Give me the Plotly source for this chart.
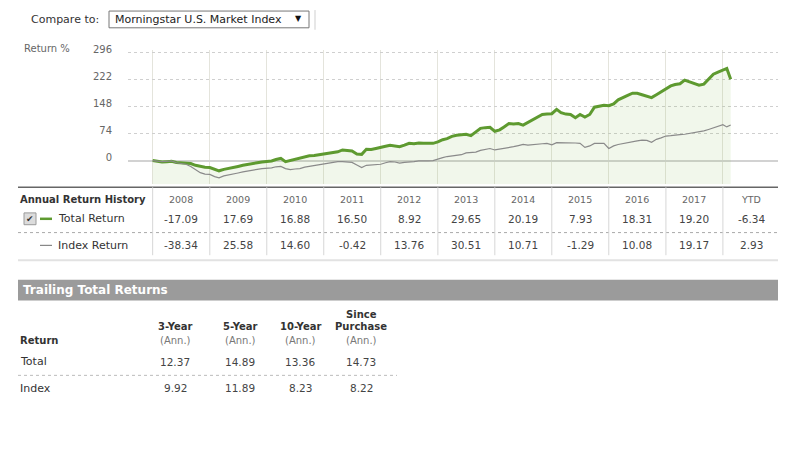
import pandas as pd
import plotly.graph_objects as go

# the page puts the figure 8px in from the top-left corner, so the figure is
# drawn 8px smaller and all layout positions below are in screen pixels
OX, OY = 8, 8
W, H = 798 - OX, 461 - OY

# cumulative return (%), first of each month Jan 2008 .. Jan 2018,
# then two late points for the 2018 peak and the last day shown
dates = list(pd.date_range("2008-01-01", "2018-01-01", freq="MS").strftime("%Y-%m-%d"))
dates += ["2018-01-26", "2018-02-20"]

total_return = [
    0, -2, -4, -3, -2, -5, -6, -7, -8, -13, -16, -18,       # 2008
    -19, -24, -28, -24, -22, -20, -16, -13, -10, -9, -6, -4,  # 2009
    -3, -1, 3, 6, -3, 0, 5, 8, 11, 13, 14, 16,              # 2010
    17, 19, 20, 24, 29, 27, 26, 18, 17, 31, 30, 33,         # 2011
    35, 39, 42, 41, 38, 42, 47, 46, 48, 47, 46, 47,         # 2012
    51, 57, 60, 66, 69, 70, 72, 68, 79, 88, 90, 91,         # 2013
    80, 84, 92, 101, 100, 101, 97, 104, 110, 118, 126, 127,  # 2014
    128, 140, 131, 127, 126, 117, 126, 119, 126, 146, 148, 151,  # 2015
    150, 155, 166, 171, 178, 184, 184, 180, 176, 172, 180, 188,  # 2016
    195, 204, 208, 210, 220, 215, 210, 206, 209, 222, 236, 242,  # 2017
    248, 252, 222,                                          # 2018
]

index_return = [
    0, -2, -3, -2, -1, -6, -8, -10, -16, -25, -33, -37,     # 2008
    -38, -44, -47, -42, -40, -38, -34, -31, -28, -27, -24, -22,  # 2009
    -22, -20, -17, -16, -22, -25, -23, -22, -18, -16, -13, -11,  # 2010
    -9, -6, -5, -3, -3, -4, -5, -12, -19, -13, -12, -11,    # 2011
    -10, -6, -3, -4, -7, -5, -5, -3, -1, -2, -1, 0,         # 2012
    5, 8, 11, 13, 15, 16, 21, 21, 23, 28, 31, 33,           # 2013
    29, 31, 33, 36, 38, 41, 44, 42, 44, 44, 46, 47,         # 2014
    43, 49, 49, 50, 50, 48, 47, 36, 40, 47, 47, 47,         # 2015
    33, 40, 44, 47, 50, 52, 54, 56, 55, 50, 58, 62,         # 2016
    67, 68, 70, 71, 72, 74, 76, 79, 81, 85, 90, 94,         # 2017
    98, 92, 97,                                             # 2018
]

y_ticks = [0, 74, 148, 222, 296]
y_range = [-65, 301]
years = list(range(2008, 2019))
col_labels = [str(y) for y in range(2008, 2018)] + ["YTD"]
annual_total = ["-17.09", "17.69", "16.88", "16.50", "8.92", "29.65", "20.19", "7.93", "18.31", "19.20", "-6.34"]
annual_index = ["-38.34", "25.58", "14.60", "-0.42", "13.76", "30.51", "10.71", "-1.29", "10.08", "19.17", "2.93"]

trail_heads = ["3-Year", "5-Year", "10-Year", "Purchase"]
trail_total = ["12.37", "14.89", "13.36", "14.73"]
trail_index = ["9.92", "11.89", "8.23", "8.22"]

GREEN = "#5e9a30"
FONT = "DejaVu Sans"


def px(x):
    return (x - OX) / W


def py(y):
    return 1 - (y - OY) / H


fig = go.Figure()

# invisible floor at the bottom of the axis so the green area reaches the plot bottom
fig.add_trace(go.Scatter(
    x=dates, y=[y_range[0]] * len(dates), mode="lines",
    line=dict(width=0), hoverinfo="skip",
))
fig.add_trace(go.Scatter(
    x=dates, y=total_return, mode="lines",
    line=dict(color=GREEN, width=3),
    fill="tonexty", fillcolor="rgba(140,190,90,0.12)",
    hoverinfo="skip",
))
fig.add_trace(go.Scatter(
    x=dates, y=index_return, mode="lines",
    line=dict(color="#8a8a8a", width=1.2),
    hoverinfo="skip",
))

fig.update_layout(
    width=W, height=H,
    margin=dict(l=0, r=0, t=0, b=0),
    paper_bgcolor="white", plot_bgcolor="white",
    showlegend=False,
    font=dict(family=FONT, size=11, color="#333"),
    xaxis=dict(
        domain=[px(128), px(778)],
        range=["2007-07-27", "2018-12-20"],
        tickvals=[f"{y}-01-01" for y in years],
        showticklabels=False, ticks="",
        showgrid=True, gridcolor="#e4e4dc", gridwidth=1,
        zeroline=False, showline=False,
    ),
    yaxis=dict(
        domain=[py(180), py(44)],
        range=y_range,
        tickvals=y_ticks,
        ticktext=[str(v) for v in y_ticks],
        tickfont=dict(size=10, color="#666"),
        ticks="", ticklabelstandoff=15, ticklabelshift=-3,
        showgrid=True, gridcolor="#cfcfcf", griddash="dot", gridwidth=1,
        zeroline=True, zerolinecolor="#d2d2d2", zerolinewidth=2,
        showline=False,
    ),
)

shapes = []
ann = []


def text(x, y, s, size=11, color="#333", bold=False, anchor="left", xref="paper"):
    ann.append(dict(
        x=x if xref == "x" else px(x), y=py(y), xref=xref, yref="paper",
        text=f"<b>{s}</b>" if bold else s, showarrow=False,
        xanchor=anchor, yanchor="middle",
        font=dict(family=FONT, size=size, color=color),
    ))


def hline(x0, x1, y, color, width=1, dash="solid"):
    shapes.append(dict(type="line", xref="paper", yref="paper",
                       x0=px(x0), x1=px(x1), y0=py(y), y1=py(y),
                       line=dict(color=color, width=width, dash=dash)))


# top "compare to" control
text(29, 13, "Compare to:", 11, "#333")
shapes.append(dict(type="rect", xref="paper", yref="paper",
                   x0=px(109), x1=px(309), y0=py(21), y1=py(4),
                   line=dict(color="#777", width=1), fillcolor="white"))
text(113, 13, "Morningstar U.S. Market Index", 11, "#222")
text(298, 12, "▼", 8, "#111", anchor="center")
shapes.append(dict(type="line", xref="paper", yref="paper",
                   x0=px(315), x1=px(315), y0=py(3), y1=py(23),
                   line=dict(color="#cfcfcf", width=1)))

text(22, 42, "Return %", 10, "#666")

# annual return history table
hline(18, 778, 183, "#666", 1.5)
hline(18, 778, 229, "#aaaaaa", 1, "dot")
hline(18, 778, 257, "#e2e2e2", 2)
for yr in years:
    shapes.append(dict(type="line", xref="x", yref="paper",
                       x0=f"{yr}-01-01", x1=f"{yr}-01-01", y0=py(252), y1=py(183),
                       line=dict(color="#d6d6d6", width=1)))

text(18, 195, "Annual Return History", 10, "#333", bold=True)
for yr, lab, t, i in zip(years, col_labels, annual_total, annual_index):
    mid = f"{yr}-07-02"
    text(mid, 195, lab, 9.5, "#666", anchor="center", xref="x")
    text(mid, 215, t, 10.5, "#444", anchor="center", xref="x")
    text(mid, 242, i, 10.5, "#444", anchor="center", xref="x")

# checkbox and legend dashes
shapes.append(dict(type="rect", xref="paper", yref="paper",
                   x0=px(24), x1=px(36), y0=py(221), y1=py(209),
                   line=dict(color="#9a9a9a", width=1), fillcolor="#dcdcdc"))
text(30, 215, "✔", 9, "#333", anchor="center")
hline(40, 52, 215, GREEN, 2.5)
hline(40, 52, 242, "#888", 1.2)
text(56, 215, "Total Return", 11, "#333")
text(56, 242, "Index Return", 11, "#333")

# trailing total returns
shapes.append(dict(type="rect", xref="paper", yref="paper",
                   x0=px(18), x1=px(778), y0=py(298), y1=py(277),
                   line=dict(width=0), fillcolor="#9b9b9b"))
text(21, 287.5, "Trailing Total Returns", 12, "white", bold=True)

col_x = [175, 240, 300, 361]
text(18, 339, "Return", 10, "#333", bold=True)
text(361, 312, "Since", 10, "#333", bold=True, anchor="center")
for cx, h, t, i in zip(col_x, trail_heads, trail_total, trail_index):
    text(cx, 324, h, 10, "#333", bold=True, anchor="center")
    text(cx, 339, "(Ann.)", 10, "#777", anchor="center")
    text(cx, 360, t, 10.5, "#444", anchor="center")
    text(cx, 387, i, 10.5, "#444", anchor="center")
text(18, 360, "Total", 11, "#333")
text(18, 387, "Index", 11, "#333")
hline(18, 397, 374, "#bbbbbb", 1, "dot")

fig.update_layout(shapes=shapes, annotations=ann)

fig.write_html("out.html")
